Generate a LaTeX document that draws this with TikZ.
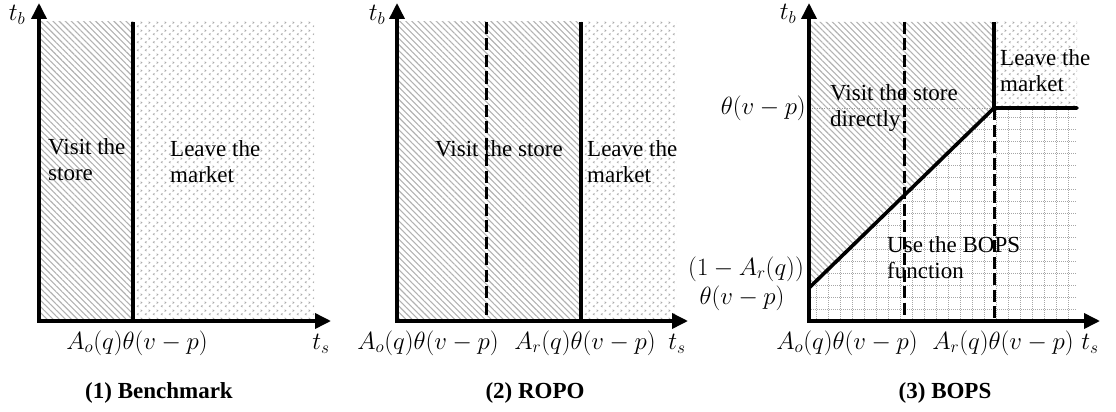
\documentclass[tikz,border=0pt]{standalone}
\usepackage{fontspec}
\setmainfont{Liberation Serif}
\usetikzlibrary{patterns.meta,arrows.meta}

\tikzdeclarepattern{
  name=chev, type=uncolored,
  bottom left={(0pt,0pt)}, top right={(8pt,8pt)}, tile size={(8pt,8pt)},
  code={
    \draw[line width=0.8pt] (2.8pt,1pt) -- (1.4pt,2pt) -- (2.8pt,3pt);
    \draw[line width=0.8pt] (5.2pt,5pt) -- (6.6pt,6pt) -- (5.2pt,7pt);
  }
}

\tikzset{
  hatchfill/.style={pattern={Lines[angle=-45,distance=4.3pt,line width=1.1pt]}, pattern color=black!30},
  dotfill/.style={pattern=chev, pattern color=black!33},
  gridline/.style={black!35, line width=0.8pt, dash pattern=on 1pt off 1pt},
  axis/.style={line width=3.6pt, line join=miter, {Triangle[length=16pt,width=15pt]}-{Triangle[length=16pt,width=15pt]}},
  bold/.style={line width=3.6pt},
  dashline/.style={line width=3pt, dash pattern=on 12pt off 4.5pt},
  lbl/.style={inner sep=0pt, align=left, font=\fontsize{23}{26.5}\selectfont},
  mlbl/.style={inner sep=0pt, font=\fontsize{23.5}{28}\selectfont},
  captxt/.style={inner sep=0pt, font=\fontsize{23}{28}\selectfont\bfseries},
}

\begin{document}
\begin{tikzpicture}[x=1pt,y=-1pt]
\useasboundingbox (0,0) rectangle (1116,412);

% ---------- Panel 1 ----------
\fill[hatchfill] (39,22) rectangle (133,321);
\fill[dotfill] (133,22) rectangle (314,321);
\node[lbl, anchor=north west] (p1visit) at (48,138) {Visit the\\store};
\node[lbl, anchor=north west] (p1leave) at (170,140) {Leave the\\market};
\coordinate (p1st) at (133,22);
\coordinate (p1sb) at (133,321);
\draw[bold] (p1st) -- (p1sb);
\coordinate (p1y) at (39,3);
\coordinate (p1o) at (39,321);
\coordinate (p1x) at (331,321);
\draw[axis] (p1y) -- (p1o) -- (p1x);
\node[mlbl] (p1tb) at (17,15) {$t_b$};
\node[mlbl] (p1ts) at (321,344) {$t_s$};
\node[mlbl] (p1ao) at (137,343) {$A_o(q)\theta(v-p)$};
\node[captxt] (p1cap) at (159,393) {(1) Benchmark};

% ---------- Panel 2 ----------
\fill[hatchfill] (397,22) rectangle (581,321);
\fill[dotfill] (581,22) rectangle (676,321);
\node[lbl, anchor=north west] (p2visit) at (435,140) {Visit the store};
\node[lbl, anchor=north west] (p2leave) at (587,140) {Leave the\\market};
\coordinate (p2dt) at (486,22);
\coordinate (p2db) at (486,321);
\draw[dashline] (p2dt) -- (p2db);
\coordinate (p2st) at (581,22);
\coordinate (p2sb) at (581,321);
\draw[bold] (p2st) -- (p2sb);
\coordinate (p2y) at (397,3);
\coordinate (p2o) at (397,321);
\coordinate (p2x) at (688,321);
\draw[axis] (p2y) -- (p2o) -- (p2x);
\node[mlbl] (p2tb) at (377,15) {$t_b$};
\node[mlbl] (p2ts) at (677,344) {$t_s$};
\node[mlbl] (p2ao) at (428,343) {$A_o(q)\theta(v-p)$};
\node[mlbl] (p2ar) at (585,343) {$A_r(q)\theta(v-p)$};
\node[captxt] (p2cap) at (535,393) {(2) ROPO};

% ---------- Panel 3 ----------
\coordinate (p3o) at (809,321);
\coordinate (p3d0) at (809,288);
\coordinate (p3k) at (994,108);
\coordinate (p3h) at (809,108);
\coordinate (p3r) at (1077,108);
\fill[hatchfill] (809,22) -- (994,22) -- (p3k) -- (p3d0) -- cycle;
\fill[dotfill] (994,22) rectangle (1077,108);
\begin{scope}
  \clip (p3d0) -- (p3k) -- (p3r) -- (1077,321) -- (p3o) -- cycle;
  \foreach \gx in {816,828,...,1076} \draw[gridline] (\gx,100) -- (\gx,321);
  \foreach \gy in {309,297,...,110} \draw[gridline] (809,\gy) -- (1077,\gy);
\end{scope}
\draw[black!40, line width=0.8pt, dash pattern=on 1pt off 1.5pt] (p3h) -- (p3k);
\node[lbl, anchor=north west] (p3visit) at (830,84) {Visit the store\\directly};
\node[lbl, anchor=north west] (p3leave) at (1000,49) {Leave the\\market};
\node[lbl, anchor=north west] (p3use) at (887,236) {Use the BOPS\\function};
\coordinate (p3d1t) at (904,22);
\coordinate (p3d1b) at (904,321);
\draw[dashline] (p3d1t) -- (p3d1b);
\coordinate (p3d2b) at (994,321);
\draw[dashline] (p3k) -- (p3d2b);
\coordinate (p3st) at (994,22);
\draw[bold] (p3st) -- (p3k);
\draw[bold, line cap=round] (p3d0) -- (p3k) -- (p3r);
\coordinate (p3y) at (809,3);
\coordinate (p3x) at (1100,321);
\draw[axis] (p3y) -- (p3o) -- (p3x);
\node[mlbl] (p3tb) at (788,14) {$t_b$};
\node[mlbl] (p3ts) at (1090,344) {$t_s$};
\node[mlbl, anchor=east] (p3th) at (806,108) {$\theta(v-p)$};
\node[mlbl] (p3low1) at (746,269) {$\bigl(1-A_r(q)\bigr)$};
\node[mlbl] (p3low2) at (742,298) {$\theta(v-p)$};
\node[mlbl] (p3ao) at (847,343) {$A_o(q)\theta(v-p)$};
\node[mlbl] (p3ar) at (1003,343) {$A_r(q)\theta(v-p)$};
\node[captxt] (p3cap) at (945,393) {(3) BOPS};
\end{tikzpicture}
\end{document}
